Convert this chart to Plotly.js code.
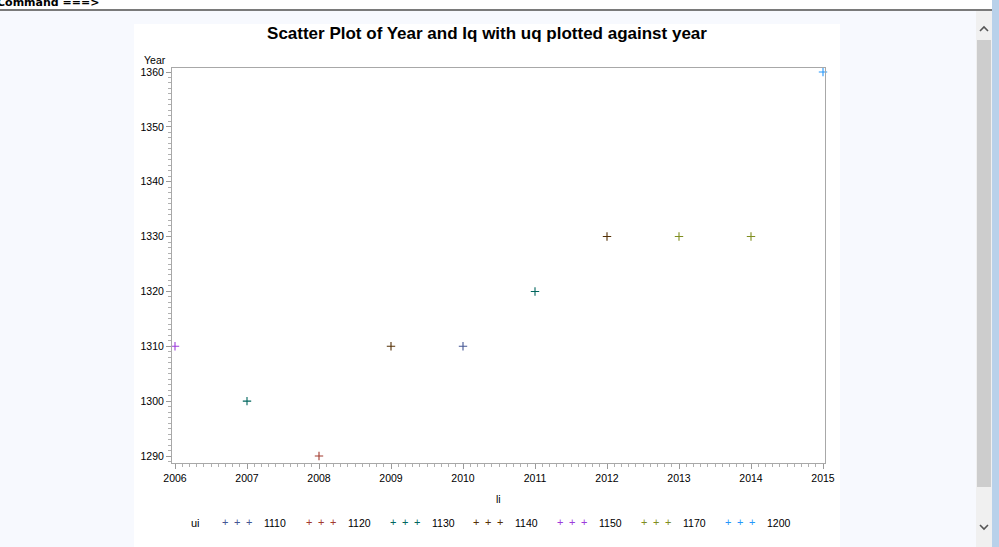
<!DOCTYPE html>
<html>
<head>
<meta charset="utf-8">
<script src="https://cdn.plot.ly/plotly-3.0.1.min.js"></script>
<style>
  html, body { margin:0; padding:0; width:999px; height:547px; overflow:hidden; background:#f7f9fe; font-family:"Liberation Sans", Arial, sans-serif; }
  #topbar { position:absolute; left:0; top:0; width:992px; height:9px; background:#ffffff; overflow:hidden; }
  #cmd { position:absolute; left:-3px; top:-4px; font:bold 11px "DejaVu Sans", sans-serif; color:#000; white-space:pre; }
  #rule { position:absolute; left:0; top:9px; width:992px; height:2px; background:#7a7a7a; }
  #panel { position:absolute; left:134px; top:24px; width:706px; height:523px; background:#ffffff; }
  #chart { position:absolute; left:0; top:0; width:999px; height:547px; }
  #track { position:absolute; left:976px; top:11px; width:16px; height:536px; background:#f0f0f0; }
  #thumb { position:absolute; left:977px; top:40px; width:14px; height:447px; background:#cdcdcd; }
  #edge { position:absolute; left:992px; top:0; width:7px; height:547px; background:#b9d1ea; }
  .arrow { position:absolute; left:978px; width:12px; height:10px; }
</style>
</head>
<body>
<div id="topbar"><div id="cmd">Command ===&gt;</div></div>
<div id="rule"></div>
<div id="panel"></div>
<div id="track"></div>
<div id="thumb"></div>
<svg class="arrow" style="top:24px" viewBox="0 0 12 10"><polyline points="2,7 6,3 10,7" fill="none" stroke="#555" stroke-width="1.6"/></svg>
<svg class="arrow" style="top:522px" viewBox="0 0 12 10"><polyline points="2,3 6,7 10,3" fill="none" stroke="#555" stroke-width="1.6"/></svg>
<div id="edge"></div>
<div id="chart"></div>
<script>
// ---- data ----
const years = [2006, 2007, 2008, 2009, 2010, 2011, 2012, 2013, 2014, 2015];
const lq    = [1310, 1300, 1290, 1310, 1310, 1320, 1330, 1330, 1330, 1360];
const uq    = [1150, 1130, 1120, 1140, 1110, 1130, 1140, 1170, 1170, 1200];
const groups = [1110, 1120, 1130, 1140, 1150, 1170, 1200];
const colors = ['#445694', '#A23A2E', '#01665E', '#543005', '#9D3CDB', '#7F8E1F', '#2597FA'];
const xTicks = [2006, 2007, 2008, 2009, 2010, 2011, 2012, 2013, 2014, 2015];
const yTicks = [1290, 1300, 1310, 1320, 1330, 1340, 1350, 1360];

// ---- layout geometry (pixels) ----
const W = 999, H = 547;
const L = 172, R = 825, T = 68, B = 463;
const px = x => (x - L) / (R - L);
const py = y => (B - y) / (B - T);

const font = '"Liberation Sans", Arial, sans-serif';

const traces = groups.map((g, gi) => {
  const xs = [], ys = [];
  uq.forEach((u, i) => { if (u === g) { xs.push(years[i]); ys.push(lq[i]); } });
  return {
    type: 'scatter', mode: 'markers', name: String(g), x: xs, y: ys,
    marker: { symbol: 'cross-thin-open', size: 6, color: colors[gi], line: { color: colors[gi], width: 1.1 } },
    showlegend: false, cliponaxis: false
  };
});

const annotations = [
  { text: 'Year', xref: 'paper', yref: 'paper', x: px(142), y: py(60), xanchor: 'left', yanchor: 'middle', showarrow: false, font: { family: font, size: 10.5, color: '#000' } },
  { text: 'li', xref: 'paper', yref: 'paper', x: px(498), y: py(499), xanchor: 'center', yanchor: 'middle', showarrow: false, font: { family: font, size: 10.5, color: '#000' } },
  { text: 'ui', xref: 'paper', yref: 'paper', x: px(189), y: py(522.5), xanchor: 'left', yanchor: 'middle', showarrow: false, font: { family: font, size: 11, color: '#000' } }
];
const step = 83.8;
groups.forEach((g, gi) => {
  [225, 237, 249].forEach(cx => {
    annotations.push({ text: '+', xref: 'paper', yref: 'paper', x: px(cx + step * gi), y: py(522), xanchor: 'center', yanchor: 'middle', showarrow: false, font: { family: font, size: 11, color: colors[gi] } });
  });
  annotations.push({ text: String(g), xref: 'paper', yref: 'paper', x: px(262 + step * gi), y: py(522.5), xanchor: 'left', yanchor: 'middle', showarrow: false, font: { family: font, size: 10.5, color: '#000' } });
});

const layout = {
  width: W, height: H,
  margin: { l: L, r: W - R, t: T, b: H - B, pad: 0 },
  paper_bgcolor: 'rgba(0,0,0,0)', plot_bgcolor: '#ffffff',
  title: { text: '<b>Scatter Plot of Year and Iq with uq plotted against year</b>', x: 487 / W, xref: 'container', xanchor: 'center', y: 1 - 33 / H, yref: 'container', yanchor: 'middle', font: { family: font, size: 17, color: '#000' } },
  xaxis: {
    range: [2006 - 3 / 72, 2015 + 2 / 72], tickvals: xTicks, ticktext: xTicks.map(String),
    ticks: 'outside', ticklen: 5, tickcolor: '#9a9a9a', tickwidth: 1,
    minor: { dtick: 0.1, tick0: 2006, ticks: 'outside', ticklen: 3, tickcolor: '#b0b0b0', showgrid: false },
    showgrid: false, zeroline: false, showline: true, mirror: true, linecolor: '#a8a8a8', linewidth: 1,
    tickfont: { family: font, size: 10.5, color: '#000' }, fixedrange: true
  },
  yaxis: {
    range: [1290 - 7 / 5.486, 1360 + 4 / 5.486], tickvals: yTicks, ticktext: yTicks.map(String),
    ticks: 'outside', ticklen: 5, tickcolor: '#9a9a9a', tickwidth: 1,
    minor: { dtick: 1, tick0: 1290, ticks: 'outside', ticklen: 3, tickcolor: '#b0b0b0', showgrid: false },
    showgrid: false, zeroline: false, showline: true, mirror: true, linecolor: '#a8a8a8', linewidth: 1,
    tickfont: { family: font, size: 10.5, color: '#000' }, fixedrange: true
  },
  showlegend: false,
  annotations: annotations
};

Plotly.newPlot('chart', traces, layout, { displayModeBar: false, staticPlot: true });
</script>
</body>
</html>
